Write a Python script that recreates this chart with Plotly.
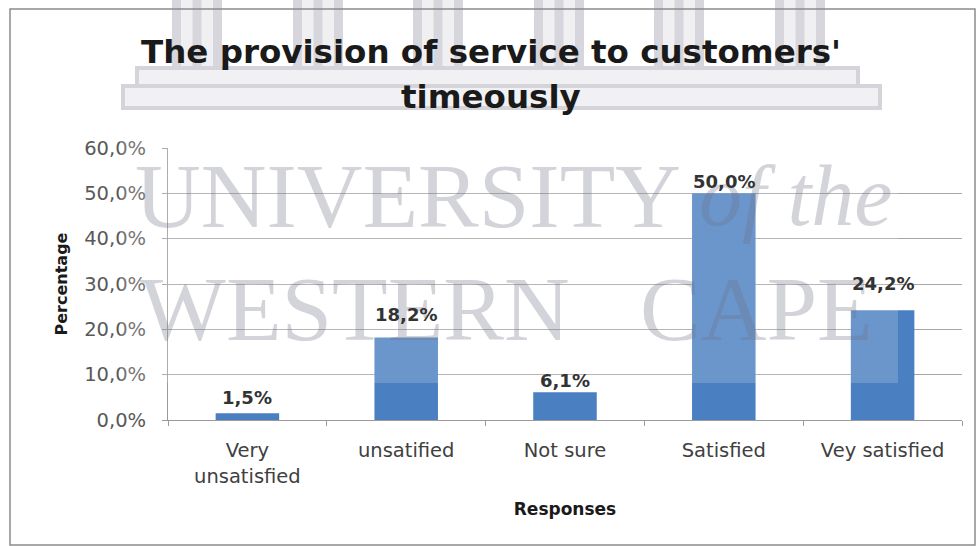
import plotly.graph_objects as go

# Survey responses: share of customers per satisfaction level
categories = ["Very unsatisfied", "unsatified", "Not sure", "Satisfied", "Vey satisfied"]
tick_labels = ["Very<br>unsatisfied", "unsatified", "Not sure", "Satisfied", "Vey satisfied"]
shares = [0.015, 0.182, 0.061, 0.500, 0.242]
y_ticks = [0.0, 0.1, 0.2, 0.3, 0.4, 0.5, 0.6]

title_lines = ["The provision of service to customers'", "timeously"]
label_lift = [3, 10, -1, -1, 14]  # px lift of each value label above its bar

W, H = 978, 546
L, R, T, B = 168, 962, 148, 420


def px_x(x):
    return (x - L) / (R - L)


def px_y(y):
    return (B - y) / (B - T)


BAR = "#4a7fc1"
GRID = "#a6a6a6"
AXIS = "#9a9a9a"
FONT = "DejaVu Sans"

fig = go.Figure()
fig.add_bar(x=categories, y=shares, marker=dict(color=BAR, line=dict(width=0)),
            hoverinfo="x+y")

shapes = []
# watermark: columns of the university emblem
for cx in [197, 318, 438, 559, 679, 800]:
    shapes.append(dict(type="rect", xref="paper", yref="paper", layer="below",
                       x0=px_x(cx - 25), x1=px_x(cx + 25), y0=px_y(68), y1=px_y(0),
                       fillcolor="#f0f0f3", line=dict(width=0)))
    for off in (-25, -4.5, 16):
        shapes.append(dict(type="rect", xref="paper", yref="paper", layer="below",
                           x0=px_x(cx + off), x1=px_x(cx + off + 9), y0=px_y(68), y1=px_y(0),
                           fillcolor="#d6d6dc", line=dict(width=0)))
# watermark: steps under the columns
for x0, x1, y0, y1 in [(137, 858, 68, 86), (123, 880, 86, 108)]:
    shapes.append(dict(type="rect", xref="paper", yref="paper", layer="below",
                       x0=px_x(x0), x1=px_x(x1), y0=px_y(y1), y1=px_y(y0),
                       fillcolor="#f1f1f4", line=dict(color="#d4d4da", width=4)))
# chart frame
shapes.append(dict(type="rect", xref="paper", yref="paper", layer="below",
                   x0=px_x(10), x1=px_x(975), y0=px_y(545), y1=px_y(9),
                   line=dict(color="#8c8c8c", width=1.5), fillcolor="rgba(0,0,0,0)"))
# watermark haze
shapes.append(dict(type="rect", xref="paper", yref="paper", layer="above",
                   x0=px_x(120), x1=px_x(898), y0=px_y(383), y1=px_y(115),
                   fillcolor="rgba(255,255,255,0.18)", line=dict(width=0)))

annotations = []
# watermark lettering
wm = "rgba(110,112,130,0.30)"
for text, cx, cy, style, size in [("UNIVERSITY", 408, 196, "normal", 91),
                                  ("of the", 795, 196, "italic", 86),
                                  ("WESTERN", 355, 309, "normal", 91),
                                  ("CAPE", 756, 309, "normal", 91)]:
    annotations.append(dict(text=text, xref="paper", yref="paper", x=px_x(cx), y=px_y(cy),
                            xanchor="center", yanchor="middle", showarrow=False,
                            font=dict(family="Liberation Serif", size=size, color=wm, style=style)))

# value labels above the bars
for cat, v, lift in zip(categories, shares, label_lift):
    annotations.append(dict(x=cat, y=v, xref="x", yref="y", text=f"{v * 100:.1f}%".replace(".", ","),
                            showarrow=False, yanchor="bottom", yshift=lift,
                            font=dict(family=FONT, size=18, color="#333333", weight="bold")))

# two-line heading
for text, cy in zip(title_lines, [52, 97]):
    annotations.append(dict(text=text, xref="paper", yref="paper", x=px_x(491), y=px_y(cy),
                            xanchor="center", yanchor="middle", showarrow=False,
                            font=dict(family=FONT, size=32.5, color="#1a1a1a", weight="bold")))

fig.update_layout(
    width=W, height=H,
    margin=dict(l=L, r=W - R, t=T, b=H - B, autoexpand=False),
    paper_bgcolor="white", plot_bgcolor="white",
    separators=",.",
    bargap=0.6,
    showlegend=False,
    shapes=shapes,
    annotations=annotations,
    font=dict(family=FONT),
)
fig.update_xaxes(
    type="category", tickvals=categories, ticktext=tick_labels,
    showline=True, linecolor=AXIS, linewidth=1,
    ticks="outside", tickson="boundaries", ticklen=5, tickcolor=AXIS,
    ticklabelstandoff=13,
    tickfont=dict(family=FONT, size=19.5, color="#404040"),
    showgrid=False, automargin=False,
    title=dict(text="Responses", standoff=16,
               font=dict(family=FONT, size=17, color="#1a1a1a", weight="bold")),
)
fig.update_yaxes(
    range=[0, 0.6], tickvals=y_ticks, tickformat=".1%",
    showline=True, linecolor=AXIS, linewidth=1,
    ticks="outside", ticklen=5, tickcolor=AXIS, ticklabelstandoff=12,
    tickfont=dict(family=FONT, size=19.5, color="#595959"),
    showgrid=True, gridcolor=GRID, gridwidth=1, zeroline=False, automargin=False,
    title=dict(text="Percentage", standoff=12,
               font=dict(family=FONT, size=16, color="#1a1a1a", weight="bold")),
)

fig.write_html("out.html")
